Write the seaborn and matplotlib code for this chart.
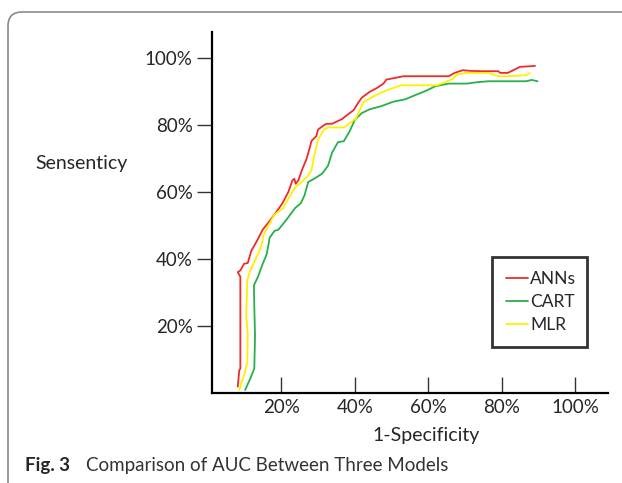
import pandas as pd
import matplotlib.pyplot as plt
import seaborn as sns
from matplotlib.patches import FancyBboxPatch
from matplotlib.transforms import IdentityTransform

# ROC points (percent)
ann_x = [8.1, 8.5, 8.8, 8.8, 8.1, 8.8, 9.8, 10.8, 11.8, 13.3, 14.9, 16.0, 18.1, 20.3, 21.9, 23.0,
         23.5, 23.9, 24.6, 25.7, 26.8, 27.6, 28.2, 29.5, 30.0, 31.1, 32.2, 33.8, 36.5, 38.6, 39.7,
         40.8, 41.9, 44.0, 46.2, 47.8, 48.6, 50.5, 53.2, 58.1, 65.6, 67.2, 69.4, 71.5, 74.8, 79.1,
         79.6, 81.7, 83.4, 85.0, 88.2, 89.1]
ann_y = [1.9, 6.8, 7.3, 34.7, 36.1, 36.6, 38.6, 38.8, 42.5, 45.4, 48.8, 50.3, 53.3, 56.7, 60.1, 63.5,
         64.0, 62.5, 63.5, 66.9, 69.8, 72.8, 75.3, 76.7, 78.7, 79.6, 80.4, 80.4, 81.8, 83.6, 84.5,
         86.5, 88.2, 89.9, 91.2, 92.4, 93.6, 94.0, 94.6, 94.6, 94.6, 95.6, 96.4, 96.2, 96.1, 96.1,
         95.6, 95.6, 96.5, 97.4, 97.6, 97.7]

cart_x = [10.1, 11.5, 12.6, 12.8, 12.6, 12.5, 13.6, 14.9, 16.0, 16.8, 18.1, 19.2, 21.4, 23.7, 25.3,
          26.3, 27.3, 28.9, 31.1, 32.7, 33.8, 35.4, 37.0, 38.6, 40.0, 41.9, 44.0, 47.3, 50.5, 53.7,
          57.0, 59.7, 61.9, 65.6, 70.5, 73.2, 76.4, 86.7, 88.2, 89.8]
cart_y = [0.9, 4.3, 7.3, 17.1, 25.9, 32.2, 34.7, 38.6, 41.5, 46.4, 48.4, 48.8, 51.8, 55.2, 56.7,
          59.1, 63.0, 64.0, 65.5, 67.9, 71.8, 74.9, 75.2, 78.2, 81.6, 83.6, 84.7, 85.7, 87.0, 87.7,
          89.2, 90.4, 91.6, 92.4, 92.4, 92.8, 93.1, 93.1, 93.5, 93.1]

mlr_x = [8.5, 9.8, 10.7, 10.8, 10.4, 10.7, 11.5, 12.8, 14.4, 15.2, 16.6, 18.1, 20.5, 21.9, 23.8,
         25.5, 27.3, 28.2, 28.9, 30.0, 31.6, 32.7, 37.0, 38.6, 40.3, 41.3, 42.4, 44.6, 46.8, 48.9,
         51.1, 52.7, 62.4, 64.5, 66.7, 67.8, 70.5, 76.4, 79.1, 81.3, 86.7, 87.7]
mlr_y = [0.9, 5.3, 9.2, 18.0, 22.9, 33.7, 36.6, 39.6, 43.5, 47.4, 50.3, 53.3, 55.2, 58.1, 61.5,
         63.0, 65.0, 66.5, 70.8, 75.7, 78.7, 79.3, 79.3, 80.6, 82.0, 84.5, 86.9, 88.3, 89.5, 90.5,
         91.3, 91.9, 91.9, 92.8, 93.8, 95.1, 95.6, 95.6, 94.6, 94.6, 94.9, 95.6]

models = ['ANNs', 'CART', 'MLR']
tick_vals = [20, 40, 60, 80, 100]
tick_labels = ['20%', '40%', '60%', '80%', '100%']

sns.set_theme(style='white')
plt.rcParams['font.family'] = ['Lato', 'DejaVu Sans']

df = pd.concat([
    pd.DataFrame({'fpr': ann_x, 'tpr': ann_y, 'model': 'ANNs'}),
    pd.DataFrame({'fpr': cart_x, 'tpr': cart_y, 'model': 'CART'}),
    pd.DataFrame({'fpr': mlr_x, 'tpr': mlr_y, 'model': 'MLR'}),
], ignore_index=True)

palette = {'ANNs': '#ee2b2b', 'CART': '#27b04a', 'MLR': '#fff000'}

fig = plt.figure(figsize=(6.22, 4.83), dpi=100)
ax = fig.add_axes([0.341, 0.1863, 0.6365, 0.7474])

sns.lineplot(data=df, x='fpr', y='tpr', hue='model', hue_order=models, palette=palette,
             sort=False, estimator=None, units='model', linewidth=1.3, ax=ax)

ax.set_xlim(1.1, 109)
ax.set_ylim(0, 107.8)
ax.set_xticks(tick_vals)
ax.set_xticklabels(tick_labels)
ax.set_yticks(tick_vals)
ax.set_yticklabels(tick_labels)
ax.set_xlabel('')
ax.set_ylabel('')
for side in ['top', 'right']:
    ax.spines[side].set_visible(False)
for side in ['left', 'bottom']:
    ax.spines[side].set_color('black')
    ax.spines[side].set_linewidth(1.6)
ax.tick_params(axis='y', direction='out', length=11, width=1, color='#333333',
               labelsize=13.5, pad=3, left=True)
ax.tick_params(axis='x', direction='in', length=11.5, width=1, color='#333333',
               labelsize=13.5, pad=4, bottom=True)

# legend box sits low on the right, well inside the plot
leg = ax.legend(handles=ax.get_legend_handles_labels()[0], labels=models,
                loc='upper left', bbox_to_anchor=(0.707, 0.0, 0.24, 0.377),
                mode='expand', fontsize=12.5, frameon=True, fancybox=False,
                handlelength=1.3, handletextpad=0.1, labelspacing=0.4,
                borderpad=0.8, borderaxespad=0)
leg.get_frame().set_edgecolor('black')
leg.get_frame().set_linewidth(2)

fig.text(35 / 622, 1 - 163 / 483, 'Sensenticy', fontsize=14, va='center', ha='left')
fig.text(426 / 622, 1 - 436 / 483, '1-Specificity', fontsize=14, va='center', ha='center')
fig.text(25 / 622, 1 - 466 / 483, 'Fig. 3', fontsize=13.5, fontweight='bold', va='center', ha='left')
fig.text(86 / 622, 1 - 466 / 483, 'Comparison of AUC Between Three Models', fontsize=13.5,
         color='#333333', va='center', ha='left')

frame = FancyBboxPatch((8, -50), 700, 471 + 50, boxstyle='round,pad=0,rounding_size=14',
                       transform=IdentityTransform(), facecolor='none',
                       edgecolor='#8a8a8a', linewidth=1.2)
fig.add_artist(frame)

fig.savefig('out.png', dpi=100)
